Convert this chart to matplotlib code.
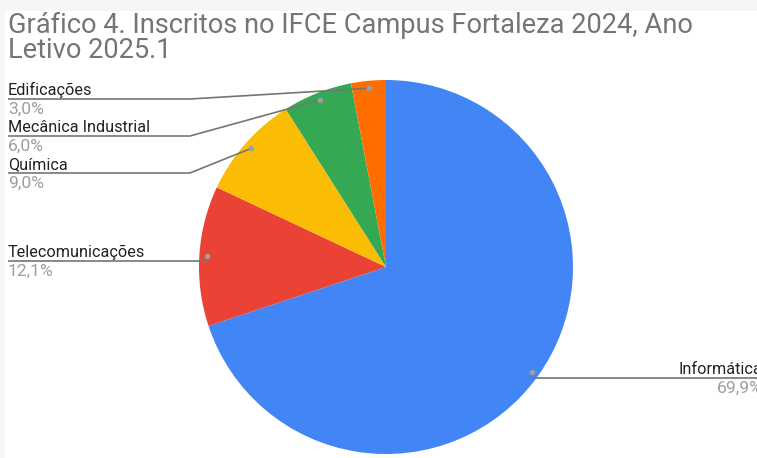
import numpy as np
import matplotlib.pyplot as plt
from matplotlib.patches import Rectangle

# data (clockwise from 12 o'clock)
courses = ['Informática', 'Telecomunicações', 'Química', 'Mecânica Industrial', 'Edificações']
shares = [69.9, 12.1, 9.0, 6.0, 3.0]
pct_labels = ['69,9%', '12,1%', '9,0%', '6,0%', '3,0%']
colors = ['#4285F4', '#EA4335', '#FBBC04', '#34A853', '#FF6D01']

title_lines = ['Gráfico 4. Inscritos no IFCE Campus Fortaleza 2024, Ano', 'Letivo 2025.1']

W, H = 757, 458
plt.rcParams['font.family'] = ['Roboto', 'DejaVu Sans']

fig = plt.figure(figsize=(W / 100, H / 100), dpi=100)
ax = fig.add_axes([0, 0, 1, 1])

def py(y):
    # pixel row from top -> data y
    return H - y

# light frame strip at top / left
ax.add_patch(Rectangle((0, py(11)), W, 11, color='#f6f6f6', lw=0, zorder=0))
ax.add_patch(Rectangle((0, 0), 5, H, color='#f6f6f6', lw=0, zorder=0))

cx, cy, r = 386, 267, 187
wedges, _ = ax.pie(shares, colors=colors, startangle=90, counterclock=False,
                   center=(cx, py(cy)), radius=r, frame=True,
                   wedgeprops=dict(linewidth=0))
ax.set_xlim(0, W)
ax.set_ylim(0, H)
ax.set_aspect('equal')
ax.axis('off')

for line, base in zip(title_lines, [33, 58]):
    ax.text(8, py(base), line, fontsize=19.6, color='#757575', ha='left', va='baseline')

# leader line layout: (y of horizontal line, x where it bends, side)
layout = {
    'Edificações': (99, 190, 'left'),
    'Mecânica Industrial': (136, 190, 'left'),
    'Química': (173, 190, 'left'),
    'Telecomunicações': (261, None, 'left'),
    'Informática': (378, None, 'right'),
}

for name, pct, w in zip(courses, pct_labels, wedges):
    mid = np.deg2rad((w.theta1 + w.theta2) / 2)
    dx = cx + 0.96 * r * np.cos(mid)
    dy = py(cy) + 0.96 * r * np.sin(mid)
    ly, bend, side = layout[name]
    if side == 'left':
        if bend is None:
            xs, ys = [8, dx], [py(ly), py(ly)]
        else:
            xs, ys = [8, bend, dx], [py(ly), py(ly), dy]
        tx, ha = 8, 'left'
    else:
        xs, ys = [dx, W], [py(ly), py(ly)]
        tx, ha = 762.5, 'right'
    ax.plot(xs, ys, color='#757575', lw=1.2, solid_capstyle='butt', zorder=3)
    ax.plot([dx], [dy], 'o', color='#9e9e9e', ms=4, mec='none', zorder=4)
    ax.text(tx, py(ly - 4), name, fontsize=11.7, color='#222222', ha=ha, va='baseline')
    ax.text(tx, py(ly + 15), pct, fontsize=12.6, color='#9e9e9e', ha=ha, va='baseline')

fig.savefig('out.png', dpi=100)
